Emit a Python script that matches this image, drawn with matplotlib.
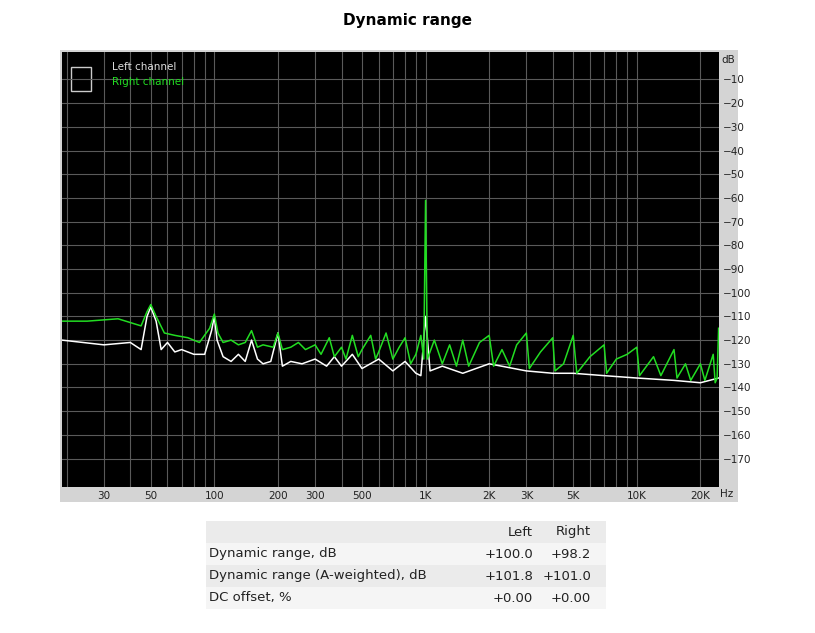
import matplotlib
matplotlib.use("Agg")
import matplotlib.pyplot as plt
from matplotlib.patches import Rectangle
from matplotlib.ticker import FixedLocator, NullFormatter

# right channel (green)
right_f = [19, 25, 35, 45, 48, 50, 53, 58, 65, 75, 85, 95, 100, 104, 110, 120, 130, 140, 150, 160,
           170, 190, 200, 210, 230, 250, 270, 300, 320, 350, 370, 400, 420, 450, 480, 500, 550, 580,
           600, 650, 700, 750, 800, 850, 900, 950, 980, 1000, 1020, 1100, 1200, 1300, 1400, 1500,
           1600, 1800, 2000, 2100, 2300, 2500, 2700, 3000, 3100, 3500, 4000, 4100, 4500, 5000, 5200,
           6000, 7000, 7200, 8000, 9000, 10000, 10300, 12000, 13000, 15000, 15500, 17000, 18000,
           20000, 21000, 23000, 23500, 24000, 24400]
right_db = [-112, -112, -111, -114, -108, -105, -110, -117, -118, -119, -121, -115, -109, -117, -121,
            -120, -122, -121, -116, -123, -122, -123, -117, -124, -123, -121, -124, -122, -126, -119,
            -127, -123, -128, -118, -127, -124, -118, -128, -125, -117, -128, -123, -119, -130, -126,
            -118, -128, -61, -128, -120, -130, -122, -131, -120, -131, -121, -118, -131, -124, -131,
            -122, -117, -132, -125, -119, -133, -130, -118, -134, -127, -122, -134, -128, -126, -123,
            -135, -127, -135, -124, -136, -130, -137, -130, -137, -126, -138, -136, -115]

# left channel (white)
left_f = [19, 30, 40, 45, 48, 50, 53, 56, 60, 65, 70, 80, 90, 97, 100, 103, 110, 120, 130, 140, 150,
          160, 170, 185, 200, 210, 230, 260, 300, 340, 370, 400, 450, 500, 600, 700, 800, 900, 950,
          1000, 1050, 1200, 1500, 2000, 3000, 4000, 5000, 7000, 10000, 15000, 20000, 24400]
left_db = [-120, -122, -121, -124, -110, -106, -112, -124, -121, -125, -124, -126, -126, -116, -110,
           -120, -127, -129, -126, -129, -120, -128, -130, -129, -117, -131, -129, -130, -128, -131,
           -127, -131, -126, -132, -128, -133, -129, -134, -135, -110, -133, -131, -134, -130, -133,
           -134, -134, -135, -136, -137, -138, -136]

x_ticks = [30, 50, 100, 200, 300, 500, 1000, 2000, 3000, 5000, 10000, 20000]
x_labels = ["30", "50", "100", "200", "300", "500", "1K", "2K", "3K", "5K", "10K", "20K"]
y_ticks = list(range(-10, -171, -10))

table_cols = ["Left", "Right"]
table_rows = ["Dynamic range, dB", "Dynamic range (A-weighted), dB", "DC offset, %"]
table_left = ["+100.0", "+101.8", "+0.00"]
table_right = ["+98.2", "+101.0", "+0.00"]

W, H = 815, 633
fig = plt.figure(figsize=(W / 100, H / 100), dpi=100)
fig.patch.set_facecolor("white")

def fx(px): return px / W
def fy(py): return 1 - py / H

# gray frame around plot, behind the axes
fig.patches.append(Rectangle((fx(60), fy(502)), fx(738 - 60), (502 - 50) / H,
                             transform=fig.transFigure, facecolor="#d4d4d4", edgecolor="none",
                             zorder=-10))

ax = fig.add_axes([fx(62), fy(487), fx(719 - 62), (487 - 52) / H])
ax.set_facecolor("black")
ax.set_xscale("log")
ax.set_xlim(19, 24500)
ax.set_ylim(-182, 1.6)

minor = [m * 10 ** e for e in range(1, 5) for m in range(1, 10)]
minor = [v for v in minor if 19 < v < 24500]
ax.xaxis.set_major_locator(FixedLocator(x_ticks))
ax.set_xticklabels(x_labels)
ax.xaxis.set_minor_locator(FixedLocator(minor))
ax.xaxis.set_minor_formatter(NullFormatter())
ax.set_yticks(y_ticks)
ax.yaxis.tick_right()
ax.grid(True, which="both", color="#5a5a5a", lw=0.8)
ax.tick_params(which="both", length=0, labelsize=7.5, colors="#222222", pad=3)
for s in ax.spines.values():
    s.set_visible(False)

ax.plot(left_f, left_db, color="white", lw=1.1)
ax.plot(right_f, right_db, color="#22dd22", lw=1.1)

fig.text(fx(721), fy(60), "dB", fontsize=7.5, color="#222222", va="center")
fig.text(fx(720), fy(494), "Hz", fontsize=7.5, color="#222222", va="center")

# legend
ax.add_patch(Rectangle((0.014, 0.91), 0.03, 0.055, transform=ax.transAxes,
                       facecolor="black", edgecolor="#cccccc", lw=1))
ax.text(0.076, 0.965, "Left channel", transform=ax.transAxes, color="#dddddd",
        fontsize=7.5, va="center")
ax.text(0.076, 0.932, "Right channel", transform=ax.transAxes, color="#22dd22",
        fontsize=7.5, va="center")

fig.text(0.5, fy(21), "Dynamic range", ha="center", va="center", fontsize=11, weight="bold")

# table
row_h = 22
top = 521
shades = ["#ebebeb", "#f5f5f5", "#ebebeb", "#f5f5f5"]
lines = [("", table_cols[0], table_cols[1])] + list(zip(table_rows, table_left, table_right))
for i, (lab, l, r) in enumerate(lines):
    y0 = top + i * row_h
    fig.patches.append(Rectangle((fx(206), fy(y0 + row_h)), fx(400), row_h / H,
                                 transform=fig.transFigure, facecolor=shades[i], edgecolor="none",
                                 zorder=-10))
    yc = fy(y0 + row_h / 2)
    fig.text(fx(209), yc, lab, fontsize=9.5, va="center", color="#222222")
    fig.text(fx(533), yc, l, fontsize=9.5, va="center", ha="right", color="#222222")
    fig.text(fx(591), yc, r, fontsize=9.5, va="center", ha="right", color="#222222")

fig.savefig("out.png", dpi=100)
